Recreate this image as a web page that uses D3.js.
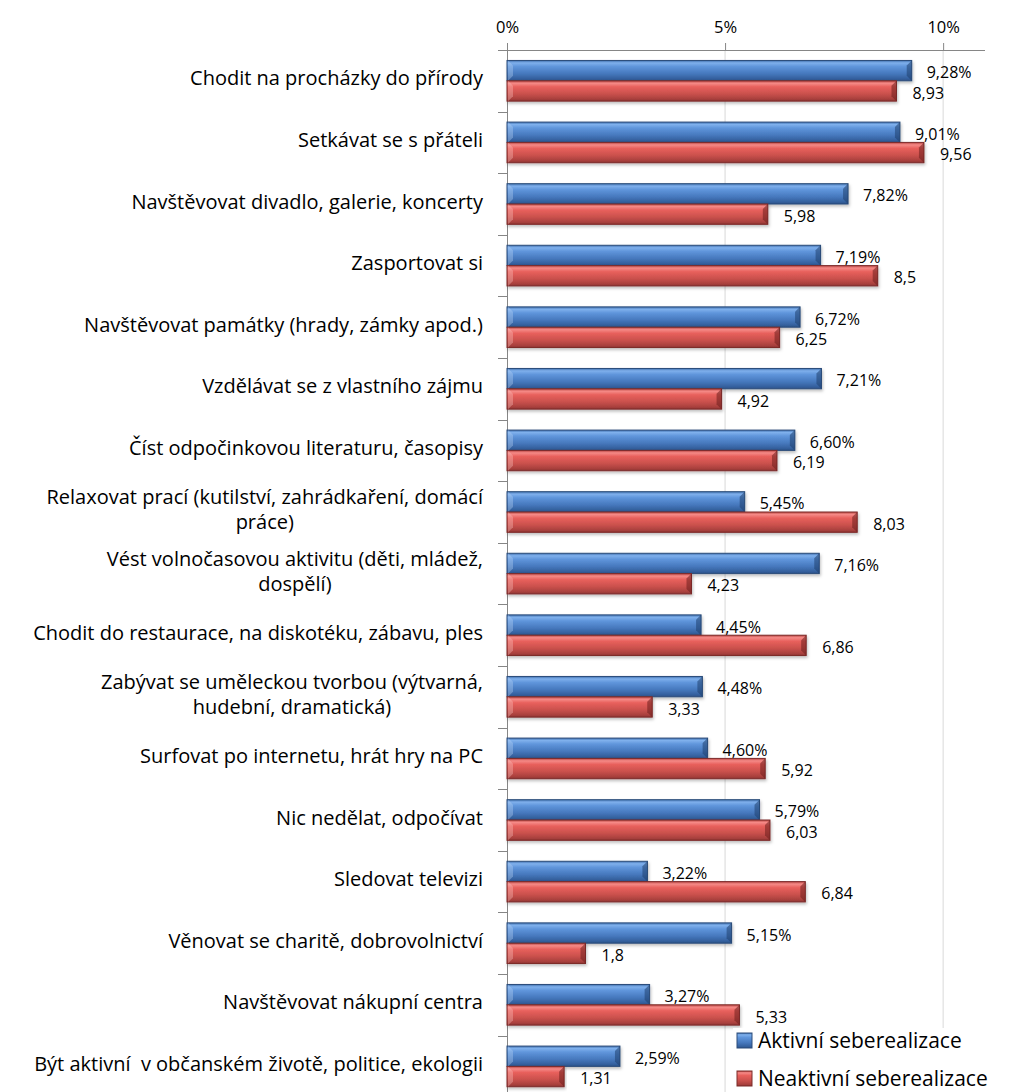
<!DOCTYPE html>
<html>
<head>
<meta charset="utf-8">
<script src="https://cdnjs.cloudflare.com/ajax/libs/d3/7.8.5/d3.min.js"></script>
<style>
  body { margin: 0; background: #fff; }
  svg { display: block; font-family: "Open Sans", sans-serif; }
  text { white-space: pre; }
</style>
</head>
<body>
<svg id="chart" width="1016" height="1092"></svg>
<script>
// data
var categories = [
  "Chodit na procházky do přírody",
  "Setkávat se s přáteli",
  "Navštěvovat divadlo, galerie, koncerty",
  "Zasportovat si",
  "Navštěvovat památky (hrady, zámky apod.)",
  "Vzdělávat se z vlastního zájmu",
  "Číst odpočinkovou literaturu, časopisy",
  "Relaxovat prací (kutilství, zahrádkaření, domácí\npráce)",
  "Vést volnočasovou aktivitu (děti, mládež,\ndospělí)",
  "Chodit do restaurace, na diskotéku, zábavu, ples",
  "Zabývat se uměleckou tvorbou (výtvarná,\nhudební, dramatická)",
  "Surfovat po internetu, hrát hry na PC",
  "Nic nedělat, odpočívat",
  "Sledovat televizi",
  "Věnovat se charitě, dobrovolnictví",
  "Navštěvovat nákupní centra",
  "Být aktivní  v občanském životě, politice, ekologii"
];
var aktivni = [9.28, 9.01, 7.82, 7.19, 6.72, 7.21, 6.60, 5.45, 7.16, 4.45, 4.48, 4.60, 5.79, 3.22, 5.15, 3.27, 2.59];
var neaktivni = [8.93, 9.56, 5.98, 8.5, 6.25, 4.92, 6.19, 8.03, 4.23, 6.86, 3.33, 5.92, 6.03, 6.84, 1.8, 5.33, 1.31];
var seriesNames = ["Aktivní seberealizace", "Neaktivní seberealizace"];
var tickValues = [0, 5, 10];
var tickLabels = ["0%", "5%", "10%"];

var svg = d3.select("#chart");

var x = d3.scaleLinear().domain([0, 10.96]).range([507, 985]);
var y = d3.scaleBand().domain(categories).range([50, 50 + 17 * 61.6]).padding(0);
var barH = y.bandwidth() * 0.33;
var barOff = (y.bandwidth() - 2 * barH) / 2;

// gradients for the bevelled bars
var defs = svg.append("defs");
function grad(id, stops) {
  var g = defs.append("linearGradient").attr("id", id)
    .attr("x1", 0).attr("y1", 0).attr("x2", 0).attr("y2", 1);
  stops.forEach(function(s) {
    g.append("stop").attr("offset", s[0]).attr("stop-color", s[1]);
  });
}
grad("gBlue", [[0, "#3f6fae"], [0.12, "#7fb0ec"], [0.3, "#5f95db"], [0.65, "#4678bd"], [0.9, "#34609d"], [1, "#2a5087"]]);
grad("gRed", [[0, "#b84441"], [0.12, "#f58a87"], [0.3, "#e8605c"], [0.65, "#c9504c"], [0.9, "#a8403d"], [1, "#8c3331"]]);
var shadow = defs.append("filter").attr("id", "shadow").attr("x", "-5%").attr("y", "-20%").attr("width", "110%").attr("height", "160%");
shadow.append("feDropShadow").attr("dx", 1).attr("dy", 2).attr("stdDeviation", 1.5)
  .attr("flood-color", "#000").attr("flood-opacity", 0.25);

// gridlines
svg.append("g").selectAll("line")
  .data(tickValues.slice(1))
  .enter()
  .append("line")
  .attr("x1", function(d) { return x(d); })
  .attr("x2", function(d) { return x(d); })
  .attr("y1", 50)
  .attr("y2", 1092)
  .attr("stroke", "#d9d9d9")
  .attr("stroke-width", 1);

// top axis
var xAxis = svg.append("g")
  .attr("transform", "translate(0,50)")
  .call(d3.axisTop(x).tickValues(tickValues)
    .tickFormat(function(d, i) { return tickLabels[i]; })
    .tickSize(7).tickSizeOuter(0).tickPadding(10));
xAxis.select(".domain").attr("stroke", "#868686").attr("d", "M498,0.5H985");
xAxis.selectAll(".tick line").attr("stroke", "#868686");
xAxis.selectAll("text").attr("font-size", "16.5px").attr("fill", "#000").attr("font-family", "'Open Sans', sans-serif");

// left axis line and category ticks
svg.append("line")
  .attr("x1", 507.5).attr("x2", 507.5).attr("y1", 43).attr("y2", 1092)
  .attr("stroke", "#868686");
svg.append("g").selectAll("line")
  .data(categories)
  .enter()
  .append("line")
  .attr("x1", 498).attr("x2", 507)
  .attr("y1", function(d) { return Math.round(y(d) + y.bandwidth()) + 0.5; })
  .attr("y2", function(d) { return Math.round(y(d) + y.bandwidth()) + 0.5; })
  .attr("stroke", "#868686");

// category labels, wrapped lines centred in a right-aligned block
var labelRight = 483;
var lineH = 25;
categories.forEach(function(c) {
  var lines = c.split("\n");
  var cy = y(c) + y.bandwidth() / 2 - 2.5;
  var t = svg.append("text")
    .attr("font-size", "20px")
    .attr("fill", "#000");
  lines.forEach(function(l, i) {
    t.append("tspan")
      .attr("y", cy + (i - (lines.length - 1) / 2) * lineH)
      .attr("dy", "0.35em")
      .text(l);
  });
  var w = 0;
  t.selectAll("tspan").each(function() { w = Math.max(w, this.getComputedTextLength()); });
  if (lines.length > 1) {
    t.attr("text-anchor", "middle").selectAll("tspan").attr("x", labelRight - w / 2);
  } else {
    t.attr("text-anchor", "end").selectAll("tspan").attr("x", labelRight);
  }
});

// bars
function drawSeries(values, offset, fill, edge, dark, light) {
  var g = svg.append("g");
  var bar = g.selectAll("g")
    .data(values)
    .enter()
    .append("g");
  bar.append("rect")
    .attr("x", x(0))
    .attr("y", function(d, i) { return y(categories[i]) + offset; })
    .attr("width", function(d) { return x(d) - x(0); })
    .attr("height", barH)
    .attr("fill", fill)
    .attr("stroke", edge)
    .attr("stroke-width", 1)
    .attr("filter", "url(#shadow)");
  // bevelled right end
  bar.append("path")
    .attr("d", function(d, i) {
      var x1 = x(d), y0 = y(categories[i]) + offset, y1 = y0 + barH, b = 5;
      return "M" + x1 + "," + y0 + "L" + (x1 - b) + "," + (y0 + b) + "L" + (x1 - b) + "," + (y1 - b) + "L" + x1 + "," + y1 + "Z";
    })
    .attr("fill", dark)
    .attr("opacity", 0.55);
  // bevelled left end
  bar.append("path")
    .attr("d", function(d, i) {
      var x0 = x(0) + 1, y0 = y(categories[i]) + offset, y1 = y0 + barH, b = 5;
      return "M" + x0 + "," + y0 + "L" + (x0 + b) + "," + (y0 + b) + "L" + (x0 + b) + "," + (y1 - b) + "L" + x0 + "," + y1 + "Z";
    })
    .attr("fill", light)
    .attr("opacity", 0.35);
}
drawSeries(aktivni, barOff, "url(#gBlue)", "#2c4d7a", "#1f3f6e", "#bcd6f7");
drawSeries(neaktivni, barOff + barH, "url(#gRed)", "#7d2c2a", "#6e1f1d", "#fbc5c3");

// value labels
svg.append("g").selectAll("text")
  .data(aktivni)
  .enter()
  .append("text")
  .attr("x", function(d) { return x(d) + 15; })
  .attr("y", function(d, i) { return y(categories[i]) + barOff + barH / 2 + 2; })
  .attr("dy", "0.35em")
  .attr("font-size", "16px")
  .text(function(d) { return d.toFixed(2).replace(".", ",") + "%"; });
svg.append("g").selectAll("text")
  .data(neaktivni)
  .enter()
  .append("text")
  .attr("x", function(d) { return x(d) + 16; })
  .attr("y", function(d, i) { return y(categories[i]) + barOff + barH * 1.5 + 2; })
  .attr("dy", "0.35em")
  .attr("font-size", "16px")
  .text(function(d) { return String(d).replace(".", ","); });

// legend
var legend = svg.append("g");
legend.append("rect")
  .attr("x", 733).attr("y", 1028).attr("width", 283).attr("height", 64)
  .attr("fill", "#fff");
var legendFills = ["url(#gBlue)", "url(#gRed)"];
var legendEdges = ["#2c4d7a", "#7d2c2a"];
var item = legend.selectAll("g")
  .data(seriesNames)
  .enter()
  .append("g")
  .attr("transform", function(d, i) { return "translate(737," + (1033 + i * 38) + ")"; });
item.append("rect")
  .attr("width", 15).attr("height", 15)
  .attr("fill", function(d, i) { return legendFills[i]; })
  .attr("stroke", function(d, i) { return legendEdges[i]; });
item.append("text")
  .attr("x", 21).attr("y", 8).attr("dy", "0.35em")
  .attr("font-size", "21px")
  .text(function(d) { return d; });
</script>
</body>
</html>
